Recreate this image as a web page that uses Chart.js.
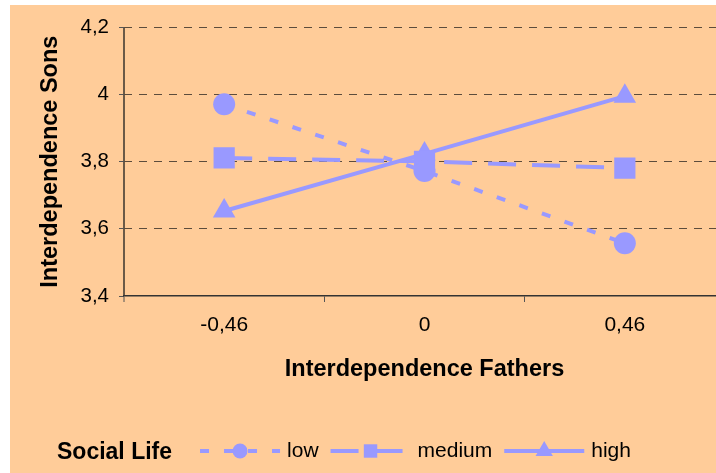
<!DOCTYPE html>
<html lang="en">
<head>
<meta charset="utf-8">
<title>Interdependence Sons vs Fathers</title>
<script src="https://cdn.jsdelivr.net/npm/chart.js@4.4.1/dist/chart.umd.min.js"></script>
<style>
  html, body { margin: 0; padding: 0; background: #ffffff; overflow: hidden; }
  #wrap { position: absolute; left: 10px; top: 5px; width: 730px; height: 468px; background: #ffcc99; }
</style>
</head>
<body>
<div id="wrap"><canvas id="chart" width="730" height="468"></canvas></div>
<script>
  // values
  const fathers = ['-0,46', '0', '0,46'];
  const lowVals = [3.971, 3.772, 3.557];
  const mediumVals = [3.811, 3.801, 3.781];
  const highVals = [3.653, 3.823, 3.995];
  const legendTitle = 'Social Life';

  const lilac = '#9999ff';
  const font = "'Liberation Sans', Arial, sans-serif";

  // legend drawn under the plot: line + marker then label, like the original
  const lineLegend = {
    id: 'lineLegend',
    afterDraw(chart) {
      const ctx = chart.ctx;
      const y = 446;
      ctx.save();
      ctx.textBaseline = 'middle';
      ctx.fillStyle = '#000';
      ctx.font = 'bold 23px ' + font;
      ctx.fillText(legendTitle, 47, y + 2);
      let x = 47 + ctx.measureText(legendTitle).width + 28;
      ctx.font = '21px ' + font;
      chart.data.datasets.forEach(ds => {
        ctx.strokeStyle = ds.borderColor;
        ctx.lineWidth = 4;
        ctx.setLineDash(ds.borderDash || []);
        ctx.beginPath();
        ctx.moveTo(x, y);
        ctx.lineTo(x + 80, y);
        ctx.stroke();
        ctx.setLineDash([]);
        ctx.fillStyle = ds.pointBackgroundColor;
        Chart.helpers.drawPoint(ctx, {
          pointStyle: ds.pointStyle,
          radius: ds.legendRadius,
          rotation: 0,
          borderWidth: 0
        }, x + 40, y);
        ctx.fillStyle = '#000';
        ctx.fillText(ds.label, x + 87, y);
        x += 87 + ctx.measureText(ds.label).width + 12;
      });
      ctx.restore();
    }
  };

  new Chart(document.getElementById('chart'), {
    type: 'line',
    data: {
      labels: fathers,
      datasets: [
        {
          label: 'low', data: lowVals,
          borderColor: lilac, borderWidth: 4, borderDash: [9, 15],
          pointStyle: 'circle', pointRadius: 11, legendRadius: 7.5,
          pointBackgroundColor: lilac, pointBorderWidth: 0
        },
        {
          label: 'medium', data: mediumVals,
          borderColor: lilac, borderWidth: 4, borderDash: [28, 16],
          pointStyle: 'rect', pointRadius: 15, legendRadius: 9.5,
          pointBackgroundColor: lilac, pointBorderWidth: 0
        },
        {
          label: 'high', data: highVals,
          borderColor: lilac, borderWidth: 4,
          pointStyle: 'triangle', pointRadius: 13, legendRadius: 10,
          pointBackgroundColor: lilac, pointBorderWidth: 0
        }
      ]
    },
    options: {
      responsive: false,
      animation: false,
      layout: { padding: { top: 20, right: 11, bottom: 89, left: 0 } },
      plugins: { legend: { display: false }, tooltip: { enabled: false } },
      scales: {
        x: {
          offset: true,
          afterFit: s => { s.height = 88; },
          // first category boundary doubles as the solid vertical axis line
          grid: {
            offset: true, tickLength: 6, tickColor: '#555', tickWidth: 1,
            color: c => (c.index === 0 ? '#6b5a48' : 'rgba(0,0,0,0)'),
            lineWidth: c => (c.index === 0 ? 2 : 1)
          },
          border: { color: '#333', width: 1.5 },
          ticks: { color: '#000', padding: 11, font: { family: font, size: 21 } },
          title: {
            display: true, text: 'Interdependence Fathers', color: '#000',
            padding: 0, font: { family: font, size: 23.5, weight: 'bold' }
          }
        },
        y: {
          min: 3.4, max: 4.2,
          afterFit: s => { s.width = 114; },
          grid: {
            color: c => (c.tick && c.tick.value <= 3.4 ? 'rgba(0,0,0,0)' : '#5c4c3c'),
            tickColor: '#555', tickLength: 5, lineWidth: 1
          },
          border: { display: false, dash: [8, 7] },
          ticks: {
            stepSize: 0.2, color: '#000', padding: 10,
            font: { family: font, size: 20.5 },
            callback: v => String(Math.round(v * 10) / 10).replace('.', ',')
          },
          title: {
            display: true, text: 'Interdependence Sons', color: '#000',
            padding: { top: 26, bottom: 0 }, font: { family: font, size: 23.5, weight: 'bold' }
          }
        }
      }
    },
    plugins: [lineLegend]
  });
</script>
</body>
</html>
